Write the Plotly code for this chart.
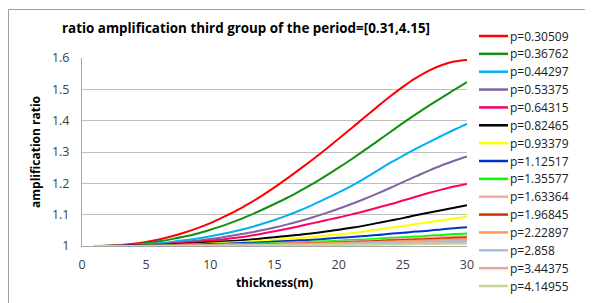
import plotly.graph_objects as go

thickness = list(range(1, 31))

periods = ["p=0.30509", "p=0.36762", "p=0.44297", "p=0.53375", "p=0.64315",
           "p=0.82465", "p=0.93379", "p=1.12517", "p=1.35577", "p=1.63364",
           "p=1.96845", "p=2.22897", "p=2.858", "p=3.44375", "p=4.14955"]

r1 = [1.0, 1.001, 1.003, 1.007, 1.013, 1.021, 1.031, 1.043, 1.057, 1.073, 1.092, 1.112, 1.135, 1.16, 1.187,
      1.216, 1.246, 1.277, 1.309, 1.342, 1.376, 1.41, 1.444, 1.477, 1.508, 1.536, 1.559, 1.577, 1.589, 1.594]
r2 = [1.0, 1.001, 1.002, 1.005, 1.009, 1.015, 1.022, 1.03, 1.04, 1.052, 1.065, 1.08, 1.097, 1.115, 1.134,
      1.154, 1.176, 1.199, 1.224, 1.25, 1.277, 1.305, 1.334, 1.363, 1.392, 1.42, 1.447, 1.473, 1.498, 1.523]
r3 = [1.0, 1.0, 1.001, 1.003, 1.006, 1.009, 1.013, 1.018, 1.024, 1.031, 1.039, 1.048, 1.058, 1.07, 1.083,
      1.098, 1.114, 1.132, 1.151, 1.171, 1.192, 1.215, 1.24, 1.265, 1.288, 1.31, 1.331, 1.351, 1.371, 1.39]
r4 = [1.0, 1.0, 1.001, 1.002, 1.004, 1.006, 1.009, 1.013, 1.017, 1.022, 1.028, 1.035, 1.042, 1.05, 1.059,
      1.069, 1.08, 1.092, 1.105, 1.119, 1.134, 1.15, 1.167, 1.185, 1.204, 1.222, 1.24, 1.257, 1.272, 1.286]
r5 = [1.0, 1.0, 1.001, 1.002, 1.003, 1.005, 1.007, 1.01, 1.013, 1.017, 1.021, 1.026, 1.032, 1.039, 1.047,
      1.055, 1.064, 1.073, 1.082, 1.091, 1.101, 1.111, 1.122, 1.133, 1.145, 1.157, 1.169, 1.18, 1.19, 1.198]
r6 = [1.0, 1.0, 1.0, 1.001, 1.002, 1.003, 1.005, 1.007, 1.009, 1.012, 1.014, 1.017, 1.02, 1.024, 1.028,
      1.032, 1.036, 1.041, 1.046, 1.052, 1.058, 1.065, 1.073, 1.081, 1.089, 1.098, 1.106, 1.114, 1.122, 1.13]
r7 = [1.0, 1.0, 1.0, 1.0, 1.001, 1.002, 1.003, 1.005, 1.006, 1.008, 1.01, 1.012, 1.014, 1.017, 1.02,
      1.023, 1.026, 1.029, 1.033, 1.037, 1.041, 1.046, 1.052, 1.058, 1.064, 1.07, 1.076, 1.082, 1.088, 1.093]
r8 = [1.0, 1.0, 1.0, 1.001, 1.001, 1.002, 1.003, 1.004, 1.005, 1.006, 1.007, 1.009, 1.01, 1.012, 1.014,
      1.016, 1.018, 1.02, 1.023, 1.026, 1.029, 1.032, 1.035, 1.039, 1.042, 1.046, 1.049, 1.053, 1.057, 1.06]
r9 = [1.0, 1.0, 1.0, 1.0, 1.001, 1.001, 1.002, 1.002, 1.003, 1.004, 1.005, 1.006, 1.007, 1.008, 1.009,
      1.011, 1.012, 1.014, 1.015, 1.017, 1.019, 1.021, 1.023, 1.026, 1.028, 1.03, 1.033, 1.035, 1.038, 1.04]
r10 = [1.0, 1.0, 1.0, 1.0, 1.0, 1.001, 1.001, 1.002, 1.002, 1.003, 1.004, 1.005, 1.005, 1.006, 1.007,
       1.009, 1.01, 1.011, 1.012, 1.014, 1.015, 1.017, 1.019, 1.021, 1.023, 1.025, 1.027, 1.029, 1.03, 1.032]
r11 = [1.0, 1.0, 1.0, 1.0, 1.0, 1.001, 1.001, 1.001, 1.002, 1.003, 1.003, 1.004, 1.005, 1.005, 1.006,
       1.007, 1.008, 1.009, 1.01, 1.012, 1.013, 1.014, 1.016, 1.018, 1.019, 1.021, 1.022, 1.024, 1.026, 1.027]
r12 = [1.0, 1.0, 1.0, 1.0, 1.0, 1.0, 1.001, 1.001, 1.002, 1.002, 1.003, 1.003, 1.004, 1.004, 1.005,
       1.006, 1.007, 1.008, 1.009, 1.01, 1.011, 1.012, 1.013, 1.014, 1.016, 1.017, 1.018, 1.02, 1.021, 1.022]
r13 = [1.0, 1.0, 1.0, 1.0, 1.0, 1.0, 1.0, 1.001, 1.001, 1.001, 1.002, 1.002, 1.003, 1.003, 1.004,
       1.004, 1.005, 1.006, 1.006, 1.007, 1.008, 1.009, 1.01, 1.011, 1.012, 1.013, 1.014, 1.015, 1.016, 1.017]
r14 = [1.0, 1.0, 1.0, 1.0, 1.0, 1.0, 1.0, 1.0, 1.001, 1.001, 1.001, 1.002, 1.002, 1.002, 1.003,
       1.003, 1.003, 1.004, 1.004, 1.005, 1.005, 1.006, 1.007, 1.007, 1.008, 1.009, 1.009, 1.01, 1.011, 1.012]
r15 = [1.0, 1.0, 1.0, 1.0, 1.0, 1.0, 1.0, 1.0, 1.0, 1.001, 1.001, 1.001, 1.001, 1.002, 1.002,
       1.002, 1.002, 1.003, 1.003, 1.003, 1.004, 1.004, 1.004, 1.005, 1.005, 1.006, 1.006, 1.007, 1.007, 1.008]

ratios = [r1, r2, r3, r4, r5, r6, r7, r8, r9, r10, r11, r12, r13, r14, r15]

colors = ["#FF0000", "#109010", "#00B0F0", "#8064A2", "#FF0066", "#000000", "#FFFF00",
          "#0033CC", "#00FF00", "#FFA6A6", "#CC3300", "#FF9955", "#A6BEE0", "#E0A8A6", "#C3D69B"]

# page is rendered with an 8px body margin; figure sized to fill the rest of the window
OFF = 8
FW, FH = 593 - OFF, 303 - OFF
# plot area in page pixels
L, R, T, B = 82, 467, 58, 246
W, H = R - L, B - T


def px(xp):
    return (xp - L) / W


def py(yp):
    return (B - yp) / H


fig = go.Figure()
for name, vals, col in zip(periods, ratios, colors):
    fig.add_trace(go.Scatter(x=thickness, y=vals, mode="lines", name=name, showlegend=False,
                             line=dict(color=col, width=2, shape="spline")))

# legend drawn as line samples + labels (Plotly's legend rows cannot be this tight)
for i, (name, col) in enumerate(zip(periods, colors)):
    yy = 36 + i * (250 / 14)
    fig.add_shape(type="line", xref="paper", yref="paper",
                  x0=px(479), x1=px(508), y0=py(yy), y1=py(yy),
                  line=dict(color=col, width=2.5))
    fig.add_annotation(xref="paper", yref="paper", x=px(508), y=py(yy),
                       text=name, showarrow=False, xanchor="left", yanchor="middle",
                       font=dict(size=12, color="#202020"))

fig.update_layout(
    width=FW, height=FH,
    margin=dict(l=L - OFF, r=FW - (R - OFF), t=T - OFF, b=FH - (B - OFF)),
    paper_bgcolor="white", plot_bgcolor="white",
    font=dict(family="Open Sans, Arial, sans-serif", size=12, color="#404040"),
    title=dict(text="<b>ratio amplification third group of the period=[0.31,4.15]</b>",
               x=(246 - OFF) / FW, xanchor="center", y=1 - (28 - OFF) / FH, yanchor="middle",
               font=dict(size=13.4, color="#000000")),
    showlegend=False,
    xaxis=dict(range=[0, 30], tickvals=[0, 5, 10, 15, 20, 25, 30], automargin=False,
               showgrid=False, zeroline=False, showline=True, linecolor="#A6A6A6",
               ticks="outside", ticklen=7, tickcolor="rgba(0,0,0,0)",
               tickfont=dict(size=12.5, color="#404040"),
               title=dict(text="<b>thickness(m)</b>", font=dict(size=12, color="#000000"), standoff=6)),
    yaxis=dict(range=[1, 1.6], tickvals=[1, 1.1, 1.2, 1.3, 1.4, 1.5, 1.6], automargin=False,
               ticktext=["1", "1.1", "1.2", "1.3", "1.4", "1.5", "1.6"],
               showgrid=True, gridcolor="#BFBFBF", gridwidth=1, zeroline=False,
               showline=True, linecolor="#A6A6A6",
               ticks="outside", ticklen=9, tickcolor="rgba(0,0,0,0)",
               tickfont=dict(size=12.5, color="#404040"),
               title=dict(text="<b>amplification ratio</b>", font=dict(size=12, color="#000000"), standoff=8)),
)

# outer chart frame (left and top edges visible; right/bottom run past the window)
fig.add_shape(type="rect", xref="paper", yref="paper",
              x0=px(8.5), x1=px(600), y0=py(310), y1=py(9.5),
              line=dict(color="#A0A0A0", width=1), fillcolor="rgba(0,0,0,0)", layer="below")

fig.write_html("out.html")
